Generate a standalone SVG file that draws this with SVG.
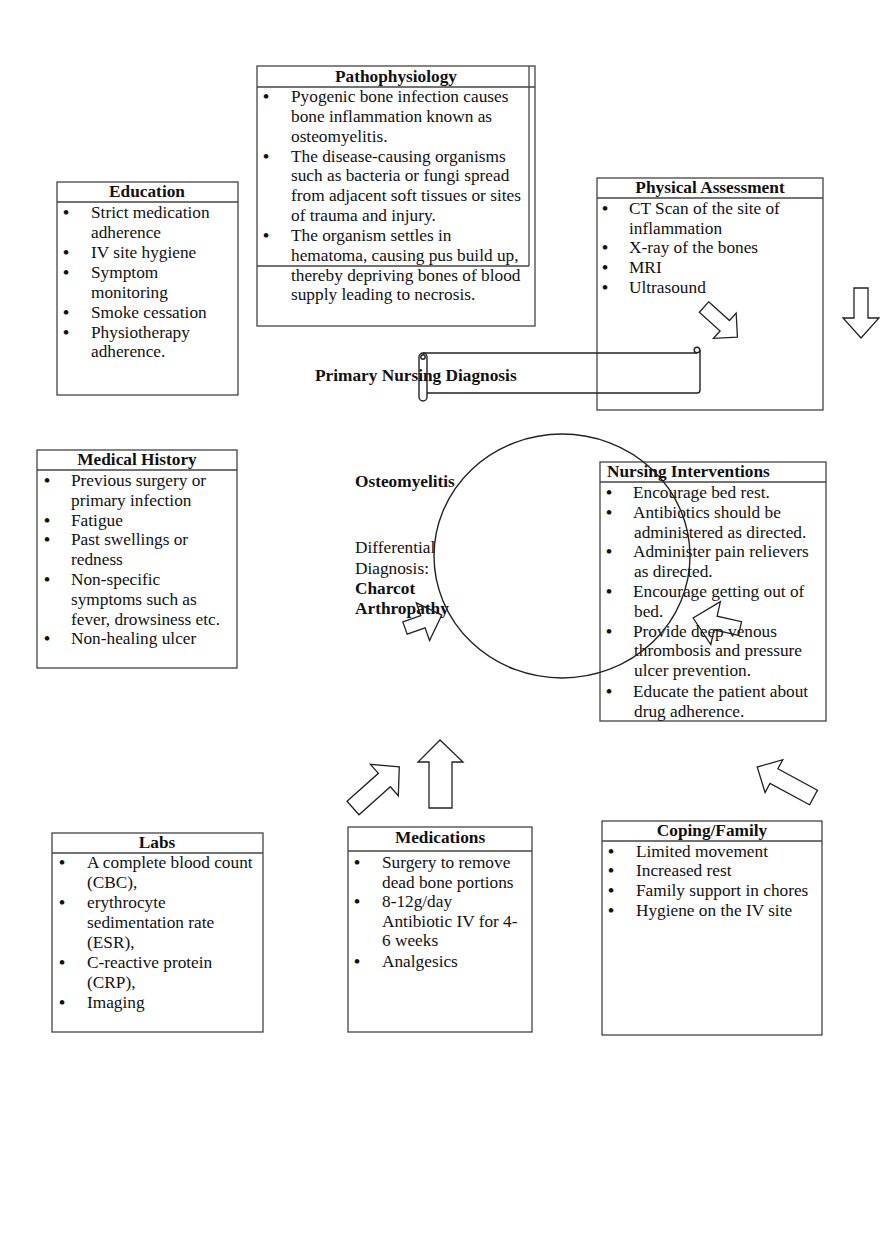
<svg xmlns="http://www.w3.org/2000/svg" width="880" height="1247" viewBox="0 0 880 1247">
<style>
.box{fill:none;stroke:#444;stroke-width:1.3}
.ln{fill:none;stroke:#222;stroke-width:1.4}
.t{font-family:"Liberation Serif","Times New Roman",serif;font-size:17.3px;fill:#111}
.u{font-weight:bold}
.b{font-weight:bold}
.h{font-weight:bold;text-anchor:middle}
.arr{fill:none;stroke:#222;stroke-width:1.3;stroke-linejoin:miter}
</style>
<rect width="880" height="1247" fill="#fff"/>

<g id="pathophysiology">
<rect class="box" x="257" y="66" width="278" height="260"/>
<line class="box" x1="529" y1="66" x2="529" y2="266"/>
<line class="box" x1="257" y1="266" x2="529" y2="266"/>
<line class="box" x1="257" y1="87" x2="535" y2="87"/>
<text class="t h" x="396" y="82">Pathophysiology</text>
<g class="t">
<text class="u" x="263" y="102">•</text><text x="291" y="102">Pyogenic bone infection causes</text>
<text x="291" y="122">bone inflammation known as</text>
<text x="291" y="142">osteomyelitis.</text>
<text class="u" x="263" y="162">•</text><text x="291" y="162">The disease-causing organisms</text>
<text x="291" y="181">such as bacteria or fungi spread</text>
<text x="291" y="201">from adjacent soft tissues or sites</text>
<text x="291" y="221">of trauma and injury.</text>
<text class="u" x="263" y="241">•</text><text x="291" y="241">The organism settles in</text>
<text x="291" y="261">hematoma, causing pus build up,</text>
<text x="291" y="281">thereby depriving bones of blood</text>
<text x="291" y="300">supply leading to necrosis.</text>
</g>
</g>

<g id="education">
<rect class="box" x="57" y="182" width="181" height="213"/>
<line class="box" x1="57" y1="202" x2="238" y2="202"/>
<text class="t h" x="147" y="197">Education</text>
<g class="t">
<text class="u" x="63" y="218">•</text><text x="91" y="218">Strict medication</text>
<text x="91" y="238">adherence</text>
<text class="u" x="63" y="258">•</text><text x="91" y="258">IV site hygiene</text>
<text class="u" x="63" y="278">•</text><text x="91" y="278">Symptom</text>
<text x="91" y="298">monitoring</text>
<text class="u" x="63" y="318">•</text><text x="91" y="318">Smoke cessation</text>
<text class="u" x="63" y="338">•</text><text x="91" y="338">Physiotherapy</text>
<text x="91" y="357">adherence.</text>
</g>
</g>

<g id="physical-assessment">
<rect class="box" x="597" y="178" width="226" height="232"/>
<line class="box" x1="597" y1="198" x2="823" y2="198"/>
<text class="t h" x="710" y="193">Physical Assessment</text>
<g class="t">
<text class="u" x="602" y="214">•</text><text x="629" y="214">CT Scan of the site of</text>
<text x="629" y="234">inflammation</text>
<text class="u" x="602" y="253">•</text><text x="629" y="253">X-ray of the bones</text>
<text class="u" x="602" y="273">•</text><text x="629" y="273">MRI</text>
<text class="u" x="602" y="293">•</text><text x="629" y="293">Ultrasound</text>
</g>
</g>

<g id="primary-nursing-diagnosis">
<path class="ln" d="M423,353 H697 M700,350 V390 Q700,393 697,393 H427"/>
<circle class="ln" cx="697" cy="350" r="2.8"/>
<rect class="ln" x="419" y="353" width="8" height="48" rx="4"/>
<circle class="ln" cx="423" cy="357" r="2.2"/>
<text class="t b" x="315" y="381">Primary Nursing Diagnosis</text>
</g>

<g id="medical-history">
<rect class="box" x="37" y="450" width="200" height="218"/>
<line class="box" x1="37" y1="470" x2="237" y2="470"/>
<text class="t h" x="137" y="465">Medical History</text>
<g class="t">
<text class="u" x="44" y="486">•</text><text x="71" y="486">Previous surgery or</text>
<text x="71" y="506">primary infection</text>
<text class="u" x="44" y="526">•</text><text x="71" y="526">Fatigue</text>
<text class="u" x="44" y="545">•</text><text x="71" y="545">Past swellings or</text>
<text x="71" y="565">redness</text>
<text class="u" x="44" y="585">•</text><text x="71" y="585">Non-specific</text>
<text x="71" y="605">symptoms such as</text>
<text x="71" y="625">fever, drowsiness etc.</text>
<text class="u" x="44" y="644">•</text><text x="71" y="644">Non-healing ulcer</text>
</g>
</g>

<g id="diagnosis">
<text class="t b" x="355" y="487">Osteomyelitis</text>
<text class="t" x="355" y="553">Differential</text>
<text class="t" x="355" y="574">Diagnosis:</text>
<text class="t b" x="355" y="594">Charcot</text>
<text class="t b" x="355" y="614">Arthropathy</text>
</g>

<g id="nursing-interventions">
<rect class="box" x="600" y="462" width="226" height="259"/>
<line class="box" x1="600" y1="482" x2="826" y2="482"/>
<text class="t b" x="607" y="477">Nursing Interventions</text>
<g class="t">
<text class="u" x="606" y="498">•</text><text x="633" y="498">Encourage bed rest.</text>
<text class="u" x="606" y="518">•</text><text x="633" y="518">Antibiotics should be</text>
<text x="634" y="538">administered as directed.</text>
<text class="u" x="606" y="557">•</text><text x="633" y="557">Administer pain relievers</text>
<text x="634" y="577">as directed.</text>
<text class="u" x="606" y="597">•</text><text x="633" y="597">Encourage getting out of</text>
<text x="634" y="617">bed.</text>
<text class="u" x="606" y="637">•</text><text x="633" y="637">Provide deep venous</text>
<text x="634" y="656">thrombosis and pressure</text>
<text x="634" y="676">ulcer prevention.</text>
<text class="u" x="606" y="697">•</text><text x="633" y="697">Educate the patient about</text>
<text x="634" y="717">drug adherence.</text>
</g>
</g>

<g id="center-circle">
<ellipse class="ln" cx="562" cy="556" rx="128" ry="122"/>
</g>

<g id="labs">
<rect class="box" x="52" y="833" width="211" height="199"/>
<line class="box" x1="52" y1="853" x2="263" y2="853"/>
<text class="t h" x="157" y="848">Labs</text>
<g class="t">
<text class="u" x="59" y="868">•</text><text x="87" y="868">A complete blood count</text>
<text x="87" y="888">(CBC),</text>
<text class="u" x="59" y="908">•</text><text x="87" y="908">erythrocyte</text>
<text x="87" y="928">sedimentation rate</text>
<text x="87" y="948">(ESR),</text>
<text class="u" x="59" y="968">•</text><text x="87" y="968">C-reactive protein</text>
<text x="87" y="988">(CRP),</text>
<text class="u" x="59" y="1008">•</text><text x="87" y="1008">Imaging</text>
</g>
</g>

<g id="medications">
<rect class="box" x="348" y="827" width="184" height="205"/>
<line class="box" x1="348" y1="851" x2="532" y2="851"/>
<text class="t h" x="440" y="843">Medications</text>
<g class="t">
<text class="u" x="354" y="868">•</text><text x="382" y="868">Surgery to remove</text>
<text x="382" y="888">dead bone portions</text>
<text class="u" x="354" y="907">•</text><text x="382" y="907">8-12g/day</text>
<text x="382" y="927">Antibiotic IV for 4-</text>
<text x="382" y="946">6 weeks</text>
<text class="u" x="354" y="967">•</text><text x="382" y="967">Analgesics</text>
</g>
</g>

<g id="coping-family">
<rect class="box" x="602" y="821" width="220" height="214"/>
<line class="box" x1="602" y1="841" x2="822" y2="841"/>
<text class="t h" x="712" y="836">Coping/Family</text>
<g class="t">
<text class="u" x="608" y="857">•</text><text x="636" y="857">Limited movement</text>
<text class="u" x="608" y="876">•</text><text x="636" y="876">Increased rest</text>
<text class="u" x="608" y="896">•</text><text x="636" y="896">Family support in chores</text>
<text class="u" x="608" y="916">•</text><text x="636" y="916">Hygiene on the IV site</text>
</g>
</g>

<g id="connectors">
<polygon class="arr" transform="translate(704,307) rotate(42)" points="0,-7 28,-7 28,-17 45,0 28,17 28,7 0,7"/>
<polygon class="arr" points="854,288 868,288 868,318 879,318 861,338 843,318 854,318"/>
<polygon class="arr" transform="translate(405,628) rotate(-19.4)" points="0,-6.5 19,-6.5 19,-20 39,0 19,20 19,6.5 0,6.5"/>
<polygon class="arr" transform="translate(740,628.5) rotate(192.6)" points="0,-7 25,-7 25,-22 48,0 25,22 25,7 0,7"/>
<polygon class="arr" transform="translate(353,808) rotate(-41.7)" points="0,-9 42,-9 42,-21 62,0 42,21 42,9 0,9"/>
<polygon class="arr" points="429,808 452,808 452,762 463,762 440,740 418,762 429,762"/>
<polygon class="arr" transform="translate(813.5,797.5) rotate(208.4)" points="0,-8.3 45,-8.3 45,-18.6 64,0 45,18.6 45,8.3 0,8.3"/>
</g>
</svg>
